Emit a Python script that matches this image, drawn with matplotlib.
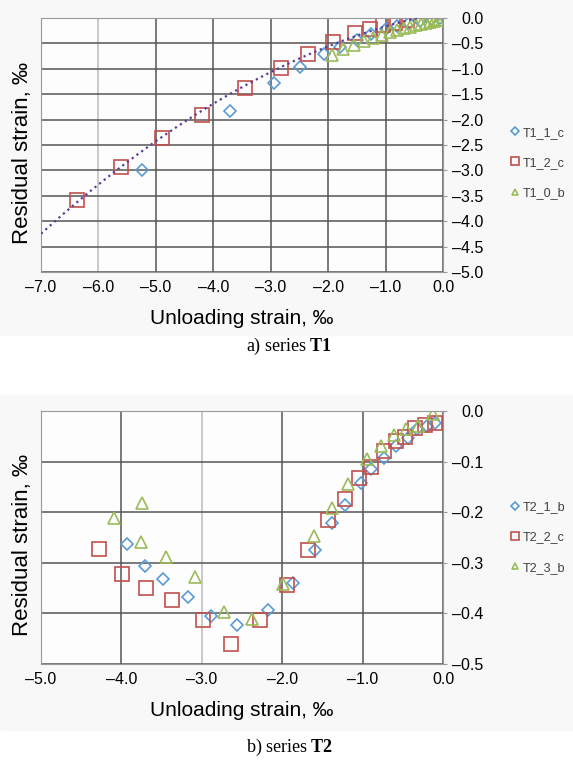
import matplotlib
matplotlib.use("Agg")
import matplotlib.pyplot as plt
import numpy as np

plt.rcParams['font.family'] = ['Liberation Sans', 'DejaVu Sans']
plt.rcParams['mathtext.fontset'] = 'custom'
plt.rcParams['mathtext.rm'] = 'Liberation Serif'
plt.rcParams['mathtext.bf'] = 'Liberation Serif:bold'

# series T1 (unloading strain, residual strain), per mille
t1_1_c_x = [-5.25, -3.71, -2.95, -2.49, -2.08, -1.80, -1.50, -1.25, -1.00, -0.80, -0.60, -0.40, -0.20, -0.05]
t1_1_c_y = [-3.00, -1.83, -1.29, -0.96, -0.70, -0.57, -0.43, -0.32, -0.22, -0.16, -0.10, -0.06, -0.03, -0.01]
t1_2_c_x = [-6.38, -5.61, -4.90, -4.20, -3.45, -2.82, -2.35, -1.91, -1.53, -1.28, -1.04, -0.83, -0.63]
t1_2_c_y = [-3.58, -2.93, -2.37, -1.91, -1.38, -0.99, -0.70, -0.47, -0.30, -0.22, -0.14, -0.10, -0.04]
t1_0_b_x = [-1.94, -1.74, -1.55, -1.38, -1.22, -1.07, -0.93, -0.80, -0.68, -0.57, -0.47, -0.38, -0.30, -0.22, -0.15, -0.08, -0.02]
t1_0_b_y = [-0.73, -0.62, -0.53, -0.46, -0.39, -0.33, -0.28, -0.24, -0.20, -0.17, -0.14, -0.12, -0.10, -0.08, -0.06, -0.05, -0.04]

# series T2
t2_1_b_x = [-3.93, -3.71, -3.48, -3.17, -2.88, -2.56, -2.18, -1.86, -1.59, -1.38, -1.22, -1.02, -0.89, -0.73, -0.59, -0.44, -0.32, -0.20, -0.10]
t2_1_b_y = [-0.263, -0.306, -0.332, -0.367, -0.405, -0.422, -0.393, -0.339, -0.275, -0.221, -0.186, -0.143, -0.115, -0.092, -0.069, -0.053, -0.036, -0.030, -0.024]
t2_2_c_x = [-4.28, -3.99, -3.70, -3.37, -2.99, -2.64, -2.28, -1.94, -1.68, -1.43, -1.22, -1.05, -0.89, -0.73, -0.59, -0.47, -0.35, -0.22, -0.10]
t2_2_c_y = [-0.273, -0.322, -0.349, -0.373, -0.414, -0.460, -0.414, -0.343, -0.275, -0.215, -0.173, -0.133, -0.111, -0.080, -0.059, -0.051, -0.034, -0.028, -0.024]
t2_3_b_x = [-4.09, -3.75, -3.76, -3.45, -3.08, -2.73, -2.38, -1.99, -1.60, -1.38, -1.18, -0.94, -0.77, -0.61, -0.46, -0.31, -0.12]
t2_3_b_y = [-0.212, -0.181, -0.258, -0.288, -0.329, -0.397, -0.412, -0.342, -0.248, -0.192, -0.145, -0.095, -0.069, -0.048, -0.035, -0.029, -0.006]

blue = '#5b9bd5'
red = '#c0504d'
green = '#9bbb59'

fig = plt.figure(figsize=(5.73, 7.74), dpi=100)
# light panels behind each chart
fig.patches.append(plt.Rectangle((0, 0.567), 1, 0.433, transform=fig.transFigure,
                                 color='#f8f8f8', zorder=-10))
fig.patches.append(plt.Rectangle((0, 0.057), 1, 0.433, transform=fig.transFigure,
                                 color='#f8f8f8', zorder=-10))
ax1 = fig.add_axes([0.0716, 0.6486, 0.7016, 0.3282])
ax2 = fig.add_axes([0.0716, 0.1421, 0.7016, 0.3269])


def fmt(v, pos):
    s = '%.1f' % v
    if s == '-0.0':
        s = '0.0'
    return s.replace('-', '\u2013')


def style_axes(ax, xlim, ylim, xstep, ystep, light_x):
    ax.set_facecolor('#fdfdfd')
    ax.set_xlim(*xlim)
    ax.set_ylim(*ylim)
    ax.set_xticks(np.arange(xlim[0], xlim[1] + 0.001, xstep))
    ax.set_yticks(np.arange(ylim[0], ylim[1] + 0.0001, ystep))
    ax.xaxis.set_major_formatter(matplotlib.ticker.FuncFormatter(fmt))
    ax.yaxis.set_major_formatter(matplotlib.ticker.FuncFormatter(fmt))
    ax.grid(True, color='#555555', lw=1.1)
    ax.set_axisbelow(True)
    for line, val in zip(ax.get_xgridlines(), ax.get_xticks()):
        if abs(val - light_x) < 1e-6:
            line.set_color('#bbbbbb')
    for s in ax.spines.values():
        s.set_color('#999999')
    ax.yaxis.tick_right()
    ax.yaxis.set_label_position('left')
    ax.tick_params(axis='y', length=3, color='#999999', pad=26, labelsize=11.5)
    ax.tick_params(axis='x', length=0, pad=6, labelsize=11.5)
    for lbl in ax.get_yticklabels():
        lbl.set_horizontalalignment('right')
    ax.set_xlabel('Unloading strain, ‰', fontsize=15)
    ax.set_ylabel('Residual strain, ‰', fontsize=16)
    ax.xaxis.set_label_coords(0.5, -0.145)
    ax.yaxis.set_label_coords(-0.02, 0.47)


style_axes(ax1, (-7, 0), (-5, 0), 1.0, 0.5, -6.0)
style_axes(ax2, (-5, 0), (-0.5, 0), 1.0, 0.1, -3.0)

# trend line for T1 (quadratic fit of the T1_2_c series)
coef = np.polyfit(t1_2_c_x + [0.0], t1_2_c_y + [0.0], 2)
xs = np.linspace(-7, 0, 200)
ax1.plot(xs, np.polyval(coef, xs), ls=':', color='#5b3c9a', lw=1.6, zorder=3)

mk = dict(ls='none', mfc='none', mew=1.2)
ax1.plot(t1_1_c_x, t1_1_c_y, marker='D', ms=6.5, mec=blue, label='T1_1_c', **mk)
ax1.plot(t1_2_c_x, t1_2_c_y, marker='s', ms=10, mec=red, label='T1_2_c', **mk)
ax1.plot(t1_0_b_x, t1_0_b_y, marker='^', ms=8, mec=green, label='T1_0_b', **mk)

ax2.plot(t2_1_b_x, t2_1_b_y, marker='D', ms=6.5, mec=blue, label='T2_1_b', **mk)
ax2.plot(t2_2_c_x, t2_2_c_y, marker='s', ms=10, mec=red, label='T2_2_c', **mk)
ax2.plot(t2_3_b_x, t2_3_b_y, marker='^', ms=8, mec=green, label='T2_3_b', **mk)

for ax, cy in [(ax1, 0.43), (ax2, 0.5)]:
    leg = ax.legend(loc='center left', bbox_to_anchor=(1.135, cy), frameon=False,
                    fontsize=9, labelspacing=1.45, handletextpad=0.1, handlelength=1.0,
                    markerscale=0.6)
    for t in leg.get_texts():
        t.set_color('#404040')

fig.text(0.505, 0.552, r'a) series $\mathbf{T1}$', ha='center', va='center',
         fontsize=13, family='Liberation Serif')
fig.text(0.505, 0.034, r'b) series $\mathbf{T2}$', ha='center', va='center',
         fontsize=13, family='Liberation Serif')

fig.savefig('out.png', dpi=100)
